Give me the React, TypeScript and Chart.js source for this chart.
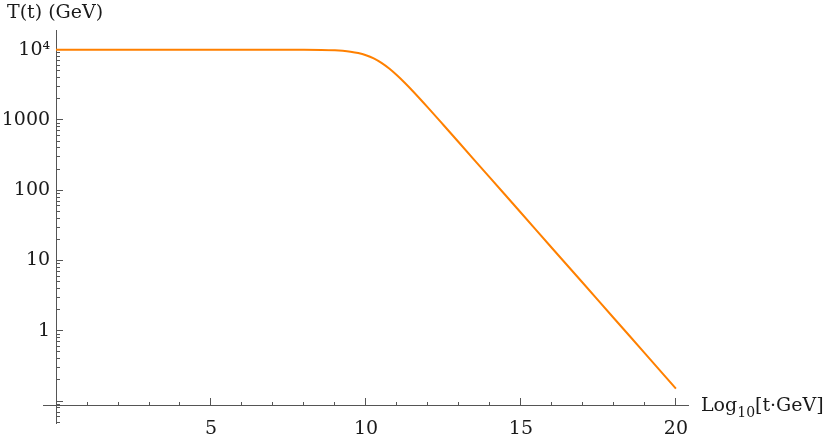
import React, { useEffect, useRef } from "react";
import { Chart, registerables } from "chart.js";

Chart.register(...registerables);

// Log10[t·GeV] sample positions and T(t) in GeV
const logTime = [
  0, 1, 2, 3, 4, 5, 6, 7, 8, 9, 9.25, 9.5, 9.75, 10, 10.25, 10.5, 10.75, 11, 11.25, 11.5, 12, 12.5, 13, 14,
  15, 16, 17, 18, 19, 20,
];
const temperature = [
  10000, 10000, 10000, 10000, 10000, 10000, 10000, 9998, 9978, 9788, 9634, 9370, 8962, 8340, 7506, 6480,
  5381, 4315, 3379, 2600, 1496, 848, 478, 151, 47.9, 15.1, 4.79, 1.51, 0.479, 0.151,
];

// tick positions / labels
const xMinorTicks = [1, 2, 3, 4, 5, 6, 7, 8, 9, 10, 11, 12, 13, 14, 15, 16, 17, 18, 19, 20];
const xMajorTicks = [5, 10, 15, 20];
const yMajorTicks = [0.1, 1, 10, 100, 1000, 10000];
const yMinorMantissas = [1, 2, 3, 4, 5, 6, 7, 8, 9];
const yDecades = [0.01, 0.1, 1, 10, 100, 1000, 10000];
const yLabelValues = [1, 10, 100, 1000, 10000];
const yLabelTexts = ["1", "10", "100", "1000", "10\u2074"];

const yTitle = "T(t) (GeV)";
const xTitleMain = "Log";
const xTitleSub = "10";
const xTitleRest = "[t\u00B7GeV]";

// plot ranges
const X_MIN = -0.42;
const X_MAX = 20.39;
const Y_MIN = 0.0479;
const Y_MAX = 19050;
const X_AXIS_AT = 0.088; // y value where the horizontal axis crosses
const Y_AXIS_AT = 0; // x value where the vertical axis crosses
const Y_LABEL_AT = -0.19;

const AXIS_COLOR = "#555555";
const TEXT_COLOR = "#1a1a1a";
const FONT_FAMILY = "'DejaVu Serif', serif";
const FONT_SIZE = 19;

const titlesPlugin = {
  id: "axisTitles",
  afterDraw(chart: any) {
    const ctx = chart.ctx;
    ctx.save();
    ctx.fillStyle = TEXT_COLOR;
    ctx.textBaseline = "alphabetic";
    ctx.textAlign = "left";
    ctx.font = `${FONT_SIZE}px ${FONT_FAMILY}`;
    ctx.fillText(yTitle, 7, 18);
    const yAxisPix = chart.scales.y.getPixelForValue(X_AXIS_AT);
    const base = yAxisPix + 6;
    let x = 701;
    ctx.fillText(xTitleMain, x, base);
    x += ctx.measureText(xTitleMain).width;
    ctx.font = `${Math.round(FONT_SIZE * 0.74)}px ${FONT_FAMILY}`;
    ctx.fillText(xTitleSub, x, base + 6);
    x += ctx.measureText(xTitleSub).width;
    ctx.font = `${FONT_SIZE}px ${FONT_FAMILY}`;
    ctx.fillText(xTitleRest, x, base);
    ctx.restore();
  },
};

export default function App() {
  const canvasRef = useRef<HTMLCanvasElement | null>(null);

  useEffect(() => {
    const canvas = canvasRef.current;
    if (!canvas) return;
    const tickFont = { family: FONT_FAMILY, size: FONT_SIZE };
    const yMinorTicks: number[] = [];
    yDecades.forEach((d) =>
      yMinorMantissas.forEach((m) => {
        const v = m * d;
        if (v > Y_MIN && v < Y_MAX) yMinorTicks.push(v);
      })
    );
    const chart = new Chart(canvas, {
      type: "line",
      data: {
        labels: logTime,
        datasets: [
          {
            data: logTime.map((t, i) => ({ x: t, y: temperature[i] })),
            borderColor: "#ff8000",
            borderWidth: 2,
            pointRadius: 0,
            fill: false,
            cubicInterpolationMode: "monotone",
            xAxisID: "x",
            yAxisID: "y",
          },
        ],
      },
      options: {
        animation: false,
        responsive: false,
        maintainAspectRatio: false,
        devicePixelRatio: 1,
        layout: { padding: { left: 43, right: 142, top: 30, bottom: 10 } },
        plugins: { legend: { display: false }, tooltip: { enabled: false }, title: { display: false } },
        scales: {
          x: {
            type: "linear",
            min: X_MIN,
            max: X_MAX,
            position: { y: X_AXIS_AT } as any,
            afterBuildTicks: (scale: any) => {
              scale.ticks = xMinorTicks.map((v) => ({ value: v }));
            },
            ticks: { display: false, autoSkip: false },
            grid: { drawOnChartArea: false, drawTicks: true, tickLength: -4, tickColor: AXIS_COLOR, tickWidth: 1 },
            border: { display: true, color: AXIS_COLOR, width: 1 },
          },
          xMajor: {
            type: "linear",
            min: X_MIN,
            max: X_MAX,
            position: { y: X_AXIS_AT } as any,
            afterBuildTicks: (scale: any) => {
              scale.ticks = xMajorTicks.map((v) => ({ value: v }));
            },
            ticks: {
              display: true,
              autoSkip: false,
              maxRotation: 0,
              padding: 20,
              color: TEXT_COLOR,
              font: tickFont,
              callback: (v: any) => String(v),
            },
            grid: { drawOnChartArea: false, drawTicks: true, tickLength: -7, tickColor: AXIS_COLOR, tickWidth: 1 },
            border: { display: false },
          },
          y: {
            type: "logarithmic",
            min: Y_MIN,
            max: Y_MAX,
            position: { x: Y_AXIS_AT } as any,
            afterBuildTicks: (scale: any) => {
              scale.ticks = yMinorTicks.map((v) => ({ value: v }));
            },
            ticks: { display: false, autoSkip: false },
            grid: { drawOnChartArea: false, drawTicks: true, tickLength: -4, tickColor: AXIS_COLOR, tickWidth: 1 },
            border: { display: true, color: AXIS_COLOR, width: 1 },
          },
          yMajor: {
            type: "logarithmic",
            min: Y_MIN,
            max: Y_MAX,
            position: { x: Y_AXIS_AT } as any,
            afterBuildTicks: (scale: any) => {
              scale.ticks = yMajorTicks.map((v) => ({ value: v }));
            },
            ticks: { display: false, autoSkip: false },
            grid: { drawOnChartArea: false, drawTicks: true, tickLength: -7, tickColor: AXIS_COLOR, tickWidth: 1 },
            border: { display: false },
          },
          yLabels: {
            type: "logarithmic",
            min: Y_MIN,
            max: Y_MAX,
            position: { x: Y_LABEL_AT } as any,
            afterBuildTicks: (scale: any) => {
              scale.ticks = yLabelValues.map((v) => ({ value: v }));
            },
            ticks: {
              display: true,
              autoSkip: false,
              color: TEXT_COLOR,
              font: tickFont,
              callback: (v: any) => {
                const i = yLabelValues.indexOf(Number(v));
                return i >= 0 ? yLabelTexts[i] : "";
              },
            },
            grid: { display: false, drawTicks: false },
            border: { display: false },
          },
        },
      },
      plugins: [titlesPlugin],
    } as any);
    return () => chart.destroy();
  }, []);

  return (
    <div style={{ position: "absolute", left: 0, top: 0, width: 830, height: 438, background: "#fff" }}>
      <canvas ref={canvasRef} width={830} height={438} style={{ width: 830, height: 438, display: "block" }} />
    </div>
  );
}
